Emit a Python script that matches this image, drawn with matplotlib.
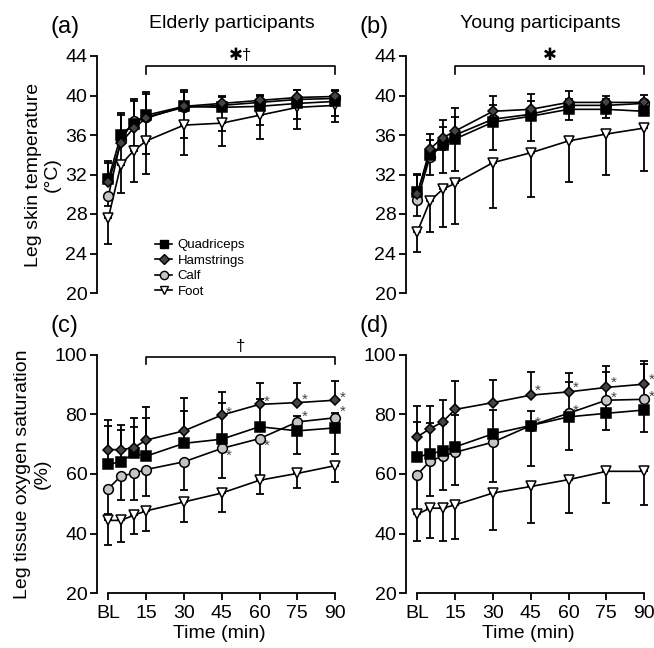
import numpy as np
import matplotlib
matplotlib.use("Agg")
import matplotlib.pyplot as plt
from matplotlib.lines import Line2D

plt.rcParams['font.family'] = ['Liberation Sans', 'DejaVu Sans']

# time points (min), BL = 0
times = [0, 5, 10, 15, 30, 45, 60, 75, 90]
tick_pos = [0, 15, 30, 45, 60, 75, 90]
tick_lab = ["BL", "15", "30", "45", "60", "75", "90"]
series = ["Quadriceps", "Hamstrings", "Calf", "Foot"]

# (a) elderly, skin temperature
a_quad = [31.5, 36.0, 37.1, 38.0, 38.9, 38.8, 38.9, 39.2, 39.4]
a_ham = [31.2, 35.2, 36.7, 37.7, 38.9, 39.2, 39.5, 39.8, 39.9]
a_calf = [29.8, 35.5, 37.4, 37.8, 38.8, 39.0, 39.3, 39.6, 39.7]
a_foot = [27.6, 33.0, 34.4, 35.4, 37.0, 37.2, 38.0, 38.8, 39.0]
a_quad_sd = [1.9, 2.2, 2.5, 2.4, 1.7, 1.1, 1.2, 1.4, 1.1]
a_ham_sd = [2.0, 2.8, 2.7, 2.5, 1.5, 0.6, 0.5, 0.8, 0.7]
a_calf_sd = [1.0, 2.5, 2.5, 3.7, 3.1, 2.6, 2.3, 2.0, 1.8]
a_foot_sd = [2.6, 2.9, 3.2, 3.3, 3.0, 2.3, 2.4, 2.2, 1.7]

# (b) young, skin temperature
b_quad = [30.2, 34.0, 35.0, 35.6, 37.3, 37.9, 38.6, 38.6, 38.4]
b_ham = [30.0, 34.6, 35.7, 36.4, 38.4, 38.6, 39.3, 39.3, 39.3]
b_calf = [29.4, 33.8, 35.0, 36.0, 37.6, 38.1, 39.0, 39.0, 39.2]
b_foot = [26.2, 29.3, 30.5, 31.1, 33.2, 34.2, 35.4, 36.1, 36.7]
b_quad_sd = [1.9, 1.5, 1.8, 2.2, 1.7, 1.5, 1.0, 1.0, 1.1]
b_ham_sd = [1.9, 1.5, 1.8, 2.3, 1.6, 1.6, 1.2, 0.7, 0.8]
b_calf_sd = [1.6, 1.8, 2.8, 3.6, 3.1, 2.7, 1.5, 1.3, 1.2]
b_foot_sd = [2.0, 3.1, 3.8, 4.1, 4.6, 4.5, 4.2, 4.1, 4.3]

# (c) elderly, tissue oxygen saturation
c_quad = [63.3, 64.1, 66.9, 66.0, 70.3, 71.7, 75.9, 74.5, 75.5]
c_ham = [68.2, 68.2, 68.8, 71.4, 74.5, 79.8, 83.4, 84.0, 84.8]
c_calf = [55.1, 59.3, 60.2, 61.5, 64.1, 68.6, 71.9, 77.5, 78.9]
c_foot = [44.4, 44.4, 46.1, 47.6, 50.6, 53.6, 57.9, 60.2, 62.8]
c_quad_sd = [12.8, 10.7, 8.8, 12.7, 11.0, 12.1, 9.3, 5.0, 5.0]
c_ham_sd = [9.9, 8.3, 9.9, 11.0, 10.9, 7.9, 7.1, 6.5, 6.5]
c_calf_sd = [8.5, 8.0, 8.9, 8.8, 9.4, 9.8, 13.5, 10.9, 12.3]
c_foot_sd = [8.4, 7.1, 6.1, 6.7, 6.6, 6.3, 4.5, 4.8, 5.4]

# (d) young, tissue oxygen saturation
d_quad = [65.7, 66.8, 67.7, 69.1, 73.5, 76.3, 79.2, 80.4, 81.5]
d_ham = [72.5, 75.2, 77.5, 81.7, 84.0, 86.5, 87.6, 89.1, 90.2]
d_calf = [59.8, 64.3, 66.0, 67.3, 70.7, 76.3, 80.4, 84.8, 85.1]
d_foot = [46.5, 48.5, 48.5, 49.6, 53.6, 55.8, 58.1, 60.9, 60.9]
d_quad_sd = [11.8, 10.5, 9.0, 10.7, 7.9, 5.0, 11.6, 14.0, 15.5]
d_ham_sd = [10.4, 7.7, 7.4, 9.4, 7.7, 7.9, 6.5, 7.1, 7.7]
d_calf_sd = [12.0, 11.6, 11.5, 11.1, 13.5, 13.7, 12.2, 10.1, 10.9]
d_foot_sd = [8.9, 10.1, 10.9, 11.6, 12.5, 12.2, 11.3, 10.5, 11.4]

# significance stars (index into times) for hamstrings / calf in c and d
c_ham_star = [5, 6, 7, 8]
c_calf_star = [5, 6, 7, 8]
d_ham_star = [5, 6, 7, 8]
d_calf_star = [5, 6, 7, 8]

# marker styles: (marker, facecolor, size, error direction)
styles = {
    "Quadriceps": ("s", "black", 7.0, "up"),
    "Hamstrings": ("D", "#444444", 5.5, "up"),
    "Calf": ("o", "#c4c4c4", 7.0, "down"),
    "Foot": ("v", "white", 7.5, "down"),
}

W, H = 654, 648
fig = plt.figure(figsize=(W / 100, H / 100), dpi=100)


def make_ax(left_px, bottom_px, top_px):
    x0 = -4.5
    x1 = 92.5
    ppm = 2.52  # pixels per minute
    width_px = (x1 - x0) * ppm
    ax = fig.add_axes([left_px / W, 1 - bottom_px / H, width_px / W, (bottom_px - top_px) / H])
    ax.set_xlim(x0, x1)
    ax.patch.set_visible(False)
    for s in ["top", "right"]:
        ax.spines[s].set_visible(False)
    for s in ["left", "bottom"]:
        ax.spines[s].set_linewidth(1.3)
    ax.tick_params(width=1.3, length=5, labelsize=14, pad=2)
    ax.tick_params(axis="x", pad=4)
    return ax


ax_a = make_ax(97, 293, 56)
ax_b = make_ax(406, 293, 56)
ax_c = make_ax(97, 593, 355)
ax_d = make_ax(406, 593, 355)

panels = [
    (ax_a, [a_quad, a_ham, a_calf, a_foot], [a_quad_sd, a_ham_sd, a_calf_sd, a_foot_sd]),
    (ax_b, [b_quad, b_ham, b_calf, b_foot], [b_quad_sd, b_ham_sd, b_calf_sd, b_foot_sd]),
    (ax_c, [c_quad, c_ham, c_calf, c_foot], [c_quad_sd, c_ham_sd, c_calf_sd, c_foot_sd]),
    (ax_d, [d_quad, d_ham, d_calf, d_foot], [d_quad_sd, d_ham_sd, d_calf_sd, d_foot_sd]),
]

order = [3, 2, 0, 1]  # drawing order: foot, calf, quad, ham
for ax, means, sds in panels:
    for z, i in enumerate(order):
        name = series[i]
        m, fc, ms, d = styles[name]
        sd = np.array(sds[i])
        zero = np.zeros_like(sd)
        yerr = [zero, sd] if d == "up" else [sd, zero]
        ax.errorbar(times, means[i], yerr=yerr, fmt="-", color="black", lw=1.2,
                    elinewidth=1.3, capsize=3.2, capthick=1.3, zorder=2 + z, clip_on=False)
    for z, i in enumerate(order):
        name = series[i]
        m, fc, ms, d = styles[name]
        ax.plot(times, means[i], marker=m, ms=ms, mfc=fc, mec="black", mew=1.1,
                ls="none", zorder=10 + z, clip_on=False, label=name)

# axes ranges
for ax in (ax_a, ax_b):
    ax.set_ylim(20, 44)
    ax.set_yticks([20, 24, 28, 32, 36, 40, 44])
    ax.spines["bottom"].set_visible(False)
    ax.set_xticks([])
for ax in (ax_c, ax_d):
    ax.set_ylim(20, 100)
    ax.set_yticks([20, 40, 60, 80, 100])
    ax.set_xticks(tick_pos)
    ax.set_xticklabels(tick_lab)
    ax.spines["bottom"].set_bounds(0, 90)
    ax.set_xlabel("Time (min)", fontsize=14, labelpad=2)

ax_a.set_ylabel("Leg skin temperature\n(°C)", fontsize=14, labelpad=3)
ax_c.set_ylabel("Leg tissue oxygen saturation\n(%)", fontsize=14, labelpad=3)

# panel letters and titles
for ax, lab in [(ax_a, "(a)"), (ax_b, "(b)"), (ax_c, "(c)"), (ax_d, "(d)")]:
    ax.text(-0.19, 1.075, lab, transform=ax.transAxes, fontsize=17, ha="left", va="bottom")
ax_a.text(0.55, 1.1, "Elderly participants", transform=ax_a.transAxes, fontsize=14, ha="center", va="bottom")
ax_b.text(0.55, 1.1, "Young participants", transform=ax_b.transAxes, fontsize=14, ha="center", va="bottom")

# brackets
for ax, txt in [(ax_a, "✱†"), (ax_b, "✱")]:
    ax.plot([15, 15, 90, 90], [42.2, 43.0, 43.0, 42.2], color="black", lw=1.2, clip_on=False)
    ax.text(52.5, 43.3, txt, fontsize=12, ha="center", va="bottom")
ax_c.plot([15, 15, 90, 90], [97.0, 99.4, 99.4, 97.0], color="black", lw=1.2, clip_on=False)
ax_c.text(52.5, 100.3, "†", fontsize=12, ha="center", va="bottom")

# significance stars on hamstrings / calf
star_kw = dict(fontsize=11, color="#444444", textcoords="offset points", ha="left", va="center")
for i in c_ham_star:
    ax_c.annotate("*", (times[i], c_ham[i]), xytext=(3, 2), **star_kw)
for i, off in zip(c_calf_star, [(3, -5), (3, -5), (3, 4), (3, 4)]):
    ax_c.annotate("*", (times[i], c_calf[i]), xytext=off, **star_kw)
for i in d_ham_star:
    ax_d.annotate("*", (times[i], d_ham[i]), xytext=(3, 3), **star_kw)
for i in d_calf_star:
    ax_d.annotate("*", (times[i], d_calf[i]), xytext=(3, 2), **star_kw)

# legend
handles = []
for name in series:
    m, fc, ms, d = styles[name]
    handles.append(Line2D([], [], color="black", lw=1.2, marker=m, ms=ms * 0.85, mfc=fc, mec="black", mew=1.0))
ax_a.legend(handles, series, loc="lower left", bbox_to_anchor=(0.2, -0.06), frameon=False,
            fontsize=9.5, handlelength=1.3, handletextpad=0.4, labelspacing=0.25, borderpad=0.2)

fig.savefig("out.png", dpi=100)
